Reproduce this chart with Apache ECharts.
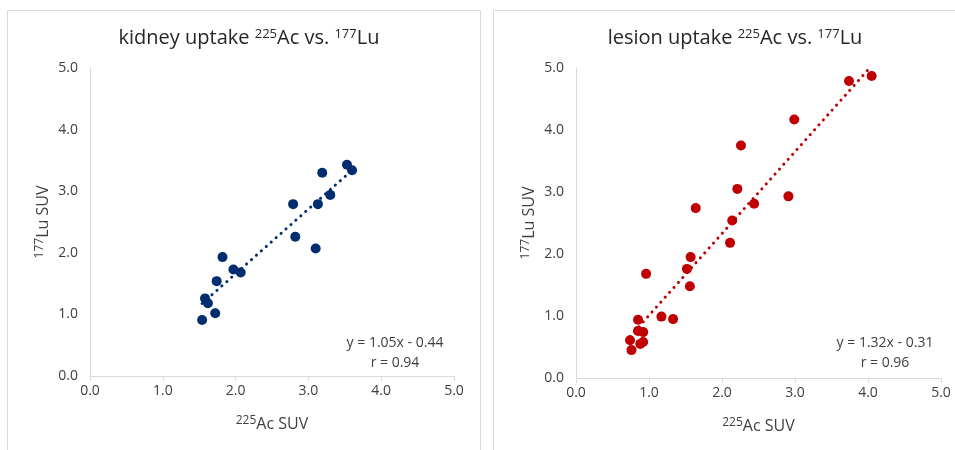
<!DOCTYPE html>
<html>
<head>
<meta charset="utf-8">
<script src="https://cdn.jsdelivr.net/npm/echarts@6/dist/echarts.min.js"></script>
<style>
  html, body { margin: 0; padding: 0; background: #fff; }
  #main { width: 955px; height: 450px; }
</style>
</head>
<body>
<div id="main"></div>
<script>
// kidney: 225Ac SUV (x) vs 177Lu SUV (y)
const kidneyAc = [1.54, 1.72, 1.58, 1.62, 1.74, 1.82, 1.97, 2.07, 2.79, 2.82, 3.10, 3.13, 3.19, 3.30, 3.53, 3.60];
const kidneyLu = [0.91, 1.02, 1.26, 1.18, 1.54, 1.93, 1.73, 1.68, 2.79, 2.26, 2.07, 2.79, 3.30, 2.94, 3.43, 3.34];
const kidneyFit = { slope: 1.05, intercept: -0.44, r: 0.94 };

// lesion
const lesionAc = [4.05, 3.74, 2.99, 2.26, 2.21, 2.91, 2.44, 1.64, 2.14, 2.11, 1.57, 1.52, 0.96, 1.56, 1.17, 1.33, 0.85, 0.85, 0.92, 0.74, 0.92, 0.88, 0.76];
const lesionLu = [4.87, 4.79, 4.17, 3.75, 3.05, 2.93, 2.81, 2.74, 2.54, 2.18, 1.95, 1.76, 1.68, 1.48, 0.99, 0.95, 0.94, 0.76, 0.74, 0.61, 0.58, 0.55, 0.45];
const lesionFit = { slope: 1.32, intercept: -0.31, r: 0.96 };

const axisTicks = [0, 1, 2, 3, 4, 5];

const FONT = 'Open Sans';
const pairs = (xs, ys) => xs.map((x, i) => [x, ys[i]]);
const fitLine = (xs, fit) => {
  const lo = Math.min(...xs), hi = Math.max(...xs);
  return [[lo, fit.slope * lo + fit.intercept], [hi, fit.slope * hi + fit.intercept]];
};

const sup = { fontSize: 12, fontFamily: FONT, color: '#404040', verticalAlign: 'top', padding: [0, 0, 6, 0] };

function makeX(gridIndex) {
  return {
    gridIndex, type: 'value', min: axisTicks[0], max: axisTicks[axisTicks.length - 1], interval: 1,
    axisLine: { lineStyle: { color: '#d9d9d9', width: 1 } },
    axisTick: { show: true, length: 5, lineStyle: { color: '#d9d9d9' } },
    splitLine: { show: false },
    axisLabel: { formatter: v => v.toFixed(1), fontSize: 14, fontFamily: FONT, color: '#404040', margin: 8 },
    name: '{s|225}{n|Ac SUV}', nameLocation: 'middle', nameGap: 39,
    nameTextStyle: { rich: { s: sup, n: { fontSize: 16, fontFamily: FONT, color: '#404040' } } }
  };
}
function makeY(gridIndex) {
  return {
    gridIndex, type: 'value', min: axisTicks[0], max: axisTicks[axisTicks.length - 1], interval: 1,
    axisLine: { show: true, lineStyle: { color: '#d9d9d9', width: 1 } },
    axisTick: { show: false },
    splitLine: { show: false },
    axisLabel: { formatter: v => v.toFixed(1), fontSize: 14, fontFamily: FONT, color: '#404040', margin: 12 },
    name: '{s|177}{n|Lu SUV}', nameLocation: 'middle', nameGap: 38, nameRotate: 90,
    nameTextStyle: { rich: { s: sup, n: { fontSize: 16, fontFamily: FONT, color: '#404040' } } }
  };
}

const titleRich = {
  t: { fontSize: 20, fontWeight: 'normal', fontFamily: FONT, color: '#262626' },
  s: { fontSize: 13, fontWeight: 'normal', fontFamily: FONT, color: '#262626', verticalAlign: 'top', padding: [0, 0, 8, 0] }
};

const myChart = echarts.init(document.getElementById('main'));

const option = {
  animation: false,
  backgroundColor: '#fff',
  title: [
    { text: '{t|kidney uptake }{s|225}{t|Ac vs. }{s|177}{t|Lu}', left: 244, top: 23, textAlign: 'center',
      textStyle: { fontWeight: 'normal', rich: titleRich } },
    { text: '{t|lesion uptake }{s|225}{t|Ac vs. }{s|177}{t|Lu}', left: 730, top: 23, textAlign: 'center',
      textStyle: { fontWeight: 'normal', rich: titleRich } }
  ],
  grid: [
    { left: 90, right: 501, top: 68, bottom: 74 },
    { left: 576, right: 14, top: 68, bottom: 72 }
  ],
  xAxis: [makeX(0), makeX(1)],
  yAxis: [makeY(0), makeY(1)],
  graphic: [
    { type: 'rect', shape: { x: 7.5, y: 10.5, width: 473, height: 450 }, style: { fill: 'none', stroke: '#d9d9d9', lineWidth: 1 }, silent: true },
    { type: 'rect', shape: { x: 493.5, y: 10.5, width: 470, height: 450 }, style: { fill: 'none', stroke: '#d9d9d9', lineWidth: 1 }, silent: true },
    { type: 'text', x: 395, y: 343, style: { text: 'y = ' + kidneyFit.slope.toFixed(2) + 'x - ' + Math.abs(kidneyFit.intercept).toFixed(2), fontSize: 14, fontFamily: FONT, fill: '#404040', align: 'center', verticalAlign: 'middle' } },
    { type: 'text', x: 395, y: 363, style: { text: 'r = ' + kidneyFit.r.toFixed(2), fontSize: 14, fontFamily: FONT, fill: '#404040', align: 'center', verticalAlign: 'middle' } },
    { type: 'text', x: 885, y: 343, style: { text: 'y = ' + lesionFit.slope.toFixed(2) + 'x - ' + Math.abs(lesionFit.intercept).toFixed(2), fontSize: 14, fontFamily: FONT, fill: '#404040', align: 'center', verticalAlign: 'middle' } },
    { type: 'text', x: 885, y: 363, style: { text: 'r = ' + lesionFit.r.toFixed(2), fontSize: 14, fontFamily: FONT, fill: '#404040', align: 'center', verticalAlign: 'middle' } }
  ],
  series: [
    {
      name: 'kidney trend', type: 'line', xAxisIndex: 0, yAxisIndex: 0, data: fitLine(kidneyAc, kidneyFit),
      symbol: 'none', clip: true,
      lineStyle: { color: '#002d6e', width: 3, type: [0.1, 6.5], cap: 'round' }, z: 1
    },
    {
      name: 'kidney', type: 'scatter', xAxisIndex: 0, yAxisIndex: 0, data: pairs(kidneyAc, kidneyLu),
      symbolSize: 10, itemStyle: { color: '#002d6e', opacity: 1 }, z: 2
    },
    {
      name: 'lesion trend', type: 'line', xAxisIndex: 1, yAxisIndex: 1, data: fitLine(lesionAc, lesionFit),
      symbol: 'none', clip: true,
      lineStyle: { color: '#c00000', width: 3, type: [0.1, 6.5], cap: 'round' }, z: 1
    },
    {
      name: 'lesion', type: 'scatter', xAxisIndex: 1, yAxisIndex: 1, data: pairs(lesionAc, lesionLu),
      symbolSize: 10, itemStyle: { color: '#c00000', opacity: 1 }, z: 2
    }
  ]
};

myChart.setOption(option);
</script>
</body>
</html>
